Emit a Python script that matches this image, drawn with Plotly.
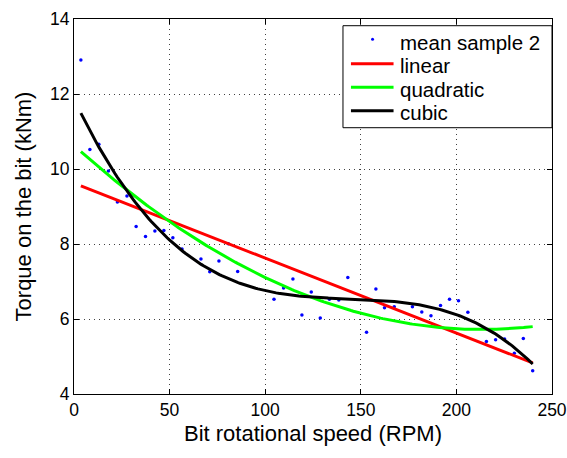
import numpy as np
import plotly.graph_objects as go

# Data
rpm = [3.6, 8.3, 13.0, 18.0, 22.7, 27.7, 32.5, 37.4, 42.3, 47.0, 51.7, 56.5,
       66.4, 71.0, 75.8, 80.7, 85.6, 104.6, 109.6, 114.5, 119.2, 124.1, 128.8,
       133.6, 138.5, 143.2, 153.0, 157.9, 162.4, 167.5, 177.0, 181.9, 186.7,
       191.7, 196.4, 201.1, 206.0, 215.7, 220.5, 225.2, 230.3, 235.0, 239.9]
torque = [12.91, 10.52, 10.66, 9.95, 9.12, 9.28, 8.47, 8.20, 8.35, 8.36, 8.17, 7.87,
          7.60, 7.26, 7.55, 8.01, 7.27, 6.53, 6.83, 7.07, 6.11, 6.72, 6.03,
          6.53, 6.51, 7.11, 5.65, 6.80, 6.30, 6.33, 6.33, 6.19, 6.09,
          6.36, 6.53, 6.49, 6.18, 5.40, 5.45, 5.47, 5.09, 5.48, 4.62]

x_ticks = [0, 50, 100, 150, 200, 250]
y_ticks = [4, 6, 8, 10, 12, 14]

series_names = ["mean sample 2", "linear", "quadratic", "cubic"]
fit_degrees = [1, 2, 3]
colors = ["#0000ff", "#ff0000", "#00ff00", "#000000"]

x = np.array(rpm)
y = np.array(torque)
xf = np.linspace(x.min(), x.max(), 200)

fig = go.Figure()
fig.add_trace(go.Scatter(x=rpm, y=torque, mode="markers", name=series_names[0],
                         marker=dict(color=colors[0], size=3.5), showlegend=False))
for name, deg, col in zip(series_names[1:], fit_degrees, colors[1:]):
    p = np.polyfit(x, y, deg)
    fig.add_trace(go.Scatter(x=xf, y=np.polyval(p, xf), mode="lines", name=name,
                             line=dict(color=col, width=3), showlegend=False))

axis_common = dict(
    showline=True, linecolor="black", linewidth=1, mirror="ticks",
    ticks="inside", ticklen=5, tickcolor="black", automargin=False,
    showgrid=True, gridcolor="rgba(0,0,0,0.75)", gridwidth=1, griddash="1px,4px",
    zeroline=False, tickfont=dict(size=17.5, color="black"),
)

fig.update_xaxes(range=[0, 250], tickvals=x_ticks,
                 title=dict(text="Bit rotational speed (RPM)", font=dict(size=22, color="black"), standoff=6),
                 **axis_common)
fig.update_yaxes(range=[4, 14], tickvals=y_ticks,
                 title=dict(text="Torque on the bit (kNm)", font=dict(size=22, color="black"), standoff=12),
                 **axis_common)

# Legend box (drawn manually to match the reference spacing)
leg_x0, leg_x1, leg_y0, leg_y1 = 0.5627, 1.0, 0.7101, 0.9821
row_y = [0.9381, 0.8755, 0.8128, 0.7501]
line_x0, line_x1, dot_x, text_x = 0.5794, 0.6685, 0.6246, 0.6784

shapes = [dict(type="rect", xref="paper", yref="paper", x0=leg_x0, x1=leg_x1, y0=leg_y0, y1=leg_y1,
               line=dict(color="black", width=1), fillcolor="white", layer="above")]
shapes.append(dict(type="circle", xref="paper", yref="paper", xsizemode="pixel", ysizemode="pixel",
                   xanchor=dot_x, yanchor=row_y[0] + 0.008, x0=-1.5, x1=1.5, y0=-1.5, y1=1.5,
                   fillcolor=colors[0], line=dict(width=0), layer="above"))
for ry, col in zip(row_y[1:], colors[1:]):
    shapes.append(dict(type="line", xref="paper", yref="paper", x0=line_x0, x1=line_x1, y0=ry + 0.005, y1=ry + 0.005,
                       line=dict(color=col, width=3), layer="above"))
annotations = [dict(text=n, xref="paper", yref="paper", x=text_x, y=ry, xanchor="left", yanchor="middle",
                    showarrow=False, font=dict(size=20.5, color="black"))
               for n, ry in zip(series_names, row_y)]

fig.update_layout(
    width=567, height=458,
    margin=dict(l=74, r=15, t=19, b=64),
    paper_bgcolor="white", plot_bgcolor="white",
    font=dict(family="Liberation Sans, Arial, sans-serif", color="black"),
    showlegend=False, shapes=shapes, annotations=annotations,
)

fig.write_html("out.html", config={"displayModeBar": False},
               post_script="document.body.style.margin='0';document.body.style.overflow='hidden';")
